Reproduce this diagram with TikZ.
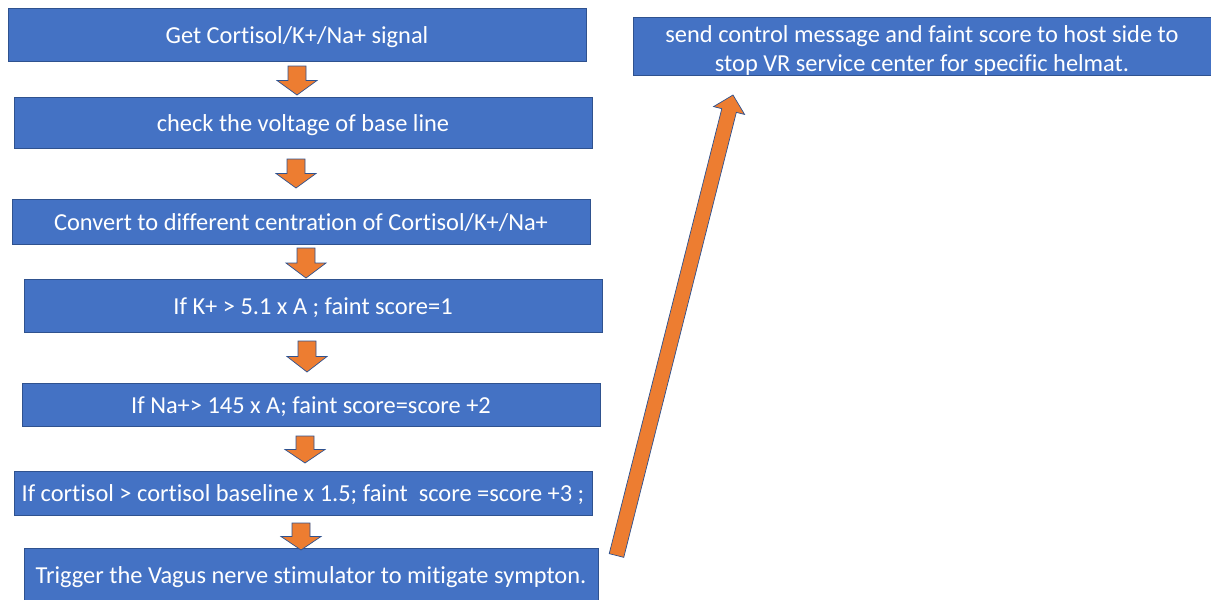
\documentclass[tikz,border=0pt]{standalone}
\usepackage{fontspec}
\setmainfont{Carlito}[Ligatures={NoCommon}]
\usetikzlibrary{calc}
\definecolor{boxblue}{HTML}{4472C4}
\definecolor{boxedge}{HTML}{2F528F}
\definecolor{arrorange}{HTML}{ED7D31}
\tikzset{
  boxbase/.style={rectangle, fill=boxblue, draw=boxedge, line width=0.8pt, text=white,
    inner sep=0pt, align=center, font=\fontsize{24.4}{29}\selectfont},
  stepbox/.style={boxbase, text height=20pt, text depth=3pt},
  blk/.style={fill=arrorange, draw=boxedge, line width=0.7pt, line join=miter}
}
\newcommand\dnarrow[3]{%
  \draw[blk] ({#1-9},#2) -- ({#1+9},#2) -- ({#1+9},{(#2+#3)/2}) -- ({#1+20},{(#2+#3)/2})
    -- (#1,#3) -- ({#1-20},{(#2+#3)/2}) -- ({#1-9},{(#2+#3)/2}) -- cycle;}
\begin{document}
\begin{tikzpicture}[x=1pt,y=-1pt]
\useasboundingbox (0,0) rectangle (1211,600);
\node[stepbox, minimum width=578, minimum height=53] (b1) at (297,34.5) {Get Cortisol/K+/Na+ signal};
\node[stepbox, minimum width=578, minimum height=51] (b2) at (303,122.5) {check the voltage of base line};
\node[stepbox, minimum width=578, minimum height=45] (b3) at (301,221.5) {Convert to different centration of Cortisol/K+/Na+};
\node[stepbox, minimum width=578, minimum height=53] (b4) at (313,305.5) {If K+ > 5.1 x A ; faint score=1};
\node[stepbox, minimum width=578, minimum height=43] (b5) at (311,404.5) {If Na+> 145 x A; faint score=score +2};
\node[stepbox, minimum width=578, minimum height=44] (b6) at (303,493) {If cortisol > cortisol baseline x 1.5; faint~ score =score +3 ;};
\node[stepbox, minimum width=574, minimum height=54] (b7) at (311,575) {Trigger the Vagus nerve stimulator to mitigate sympton.};
\node[boxbase, minimum width=578, minimum height=57] (b8) at (922,46.5) {\rule{0pt}{24.3pt}send control message and faint score to host side to\\stop VR service center for specific helmat.};
% small down arrows between steps
\dnarrow{297}{66}{95}
\dnarrow{296}{159}{188}
\dnarrow{306}{248}{278}
\dnarrow{307}{341}{372}
\dnarrow{305}{436}{463}
\dnarrow{301}{523}{550}
% big arrow from b7 towards b8
\coordinate (T) at (616.5,555.5);
\coordinate (P) at (733,95);
\coordinate (B) at ($(P)!16pt!(T)$);
\draw[blk] ($(T)!7.5pt!90:(P)$) -- ($(B)!7.5pt!90:(P)$) -- ($(B)!16pt!90:(P)$) -- (P)
  -- ($(B)!16pt!-90:(P)$) -- ($(B)!7.5pt!-90:(P)$) -- ($(T)!7.5pt!-90:(P)$) -- cycle;
\end{tikzpicture}
\end{document}
